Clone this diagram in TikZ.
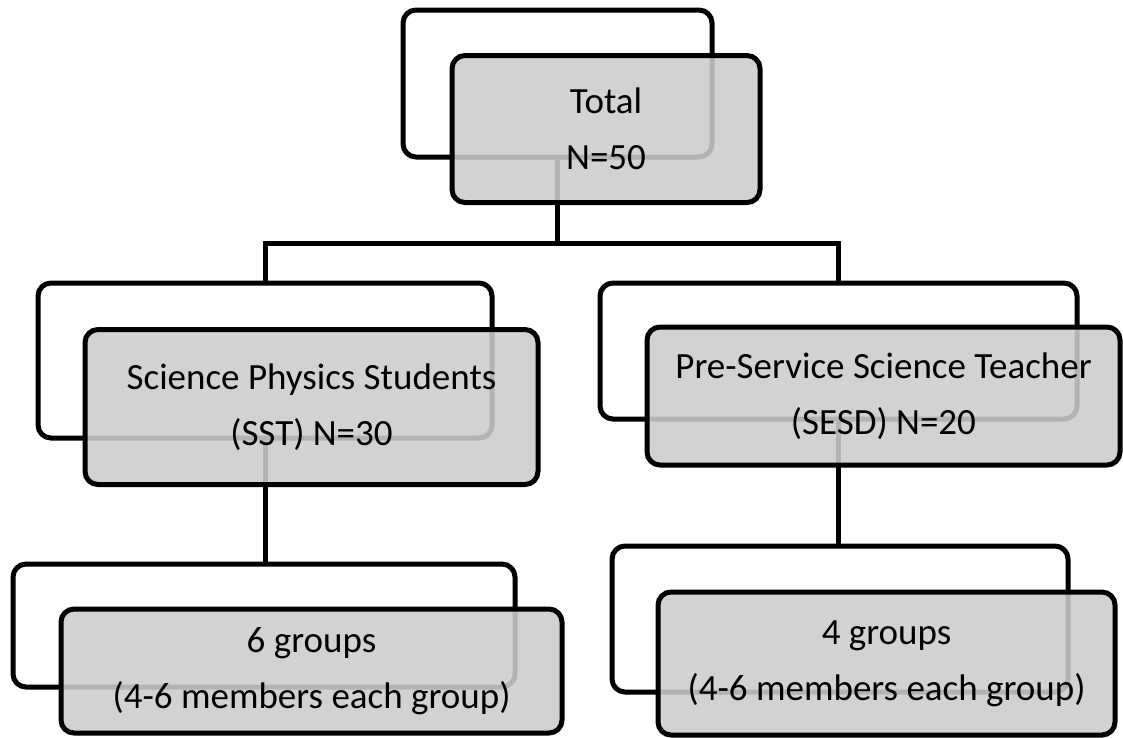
\documentclass[tikz,border=0pt]{standalone}
\usepackage{fontspec}
\setmainfont{Carlito}
\usepackage{tikz}

\definecolor{boxgray}{RGB}{204,204,204}

\begin{document}
\begin{tikzpicture}[x=1pt,y=-1pt]

      \useasboundingbox (0,0) rectangle (1123,737);

      % back boxes
      \begin{scope}[every node/.style={draw=black,fill=white,line width=5pt,
          rounded corners=13pt,inner sep=0pt}]
        \node[minimum width=309pt,minimum height=147pt] (totalback) at (557.5, 83.5) {};
        \node[minimum width=454pt,minimum height=155pt] (sstback) at (265, 360.5) {};
        \node[minimum width=477pt,minimum height=136pt] (pstback) at (838.5, 351) {};
        \node[minimum width=502pt,minimum height=123pt] (sstgrpback) at (264, 625.5) {};
        \node[minimum width=456pt,minimum height=146pt] (pstgrpback) at (840, 619) {};
      \end{scope}

      % connectors
      \coordinate (bus) at (557.5, 243);
      \begin{scope}[line width=5pt]
        \draw (totalback.south) -- (bus);
        \draw (sstback.north) |- (bus) -| (pstback.north);
        \draw (sstback.south) -- (sstback.south |- sstgrpback.north);
        \draw (pstback.south) -- (pstback.south |- pstgrpback.north);
      \end{scope}

      % front boxes
      \begin{scope}[every node/.style={draw=black,fill=boxgray,fill opacity=0.88,
          text opacity=1,line width=5pt,rounded corners=13pt,inner sep=0pt,
          align=center,font=\fontsize{37}{56}\selectfont}]
        \node[minimum width=308pt,minimum height=147pt] (total) at (606, 129) {Total\\N=50};
        \node[minimum width=453pt,minimum height=155pt] (sst) at (311.5, 407)
          {Science Physics Students\\(SST) N=30};
        \node[minimum width=473pt,minimum height=138pt] (pst) at (883.5, 396)
          {Pre-Service Science Teacher\\(SESD) N=20};
        \node[minimum width=501pt,minimum height=124pt] (sstgrp) at (311.5, 671)
          {6 groups\\(4-6 members each group)};
        \node[minimum width=457pt,minimum height=143pt] (pstgrp) at (886.5, 663.5)
          {4 groups\\(4-6 members each group)};
      \end{scope}
    \end{tikzpicture}
\end{document}
